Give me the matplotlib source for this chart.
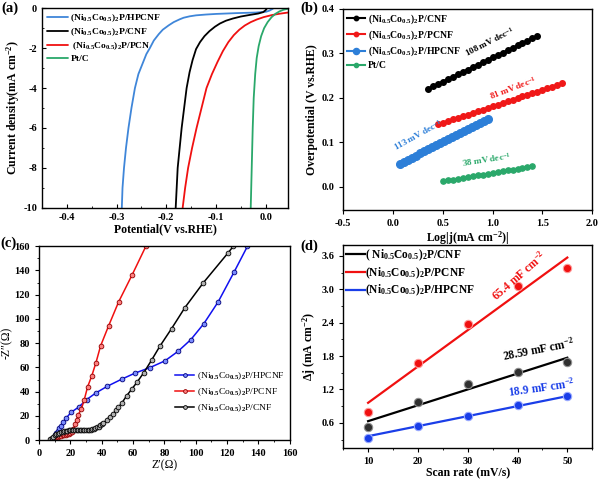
import matplotlib
matplotlib.use("Agg")
import matplotlib.pyplot as plt
from matplotlib.ticker import MultipleLocator, AutoMinorLocator

plt.rcParams['font.family'] = ['Liberation Serif', 'DejaVu Serif']
plt.rcParams['font.weight'] = 'bold'
plt.rcParams['axes.labelweight'] = 'bold'
plt.rcParams['axes.unicode_minus'] = False
plt.rcParams['mathtext.fontset'] = 'custom'
plt.rcParams['mathtext.rm'] = 'Liberation Serif:bold'
plt.rcParams['mathtext.it'] = 'Liberation Serif:bold'
plt.rcParams['mathtext.bf'] = 'Liberation Serif:bold'
plt.rcParams['axes.linewidth'] = 1.0

# ---------------- data ----------------
# (a) LSV
lsv_labels = ["(Ni$_{0.5}$Co$_{0.5}$)$_2$P/HPCNF", "(Ni$_{0.5}$Co$_{0.5}$)$_2$P/CNF",
              " (Ni$_{0.5}$Co$_{0.5}$)$_2$P/PCN", "Pt/C"]
lsv_hpcnf_x = [-0.2894, -0.288, -0.285, -0.281, -0.276, -0.270, -0.263, -0.256, -0.248, -0.240,
               -0.233, -0.225, -0.215, -0.207, -0.195, -0.185, -0.173, -0.165, -0.153, -0.140,
               -0.120, -0.10, -0.06, -0.02, 0.001, 0.008, 0.013, 0.016]
lsv_hpcnf_y = [-10, -9, -8, -7, -6, -5, -4, -3.3, -2.8, -2.3, -2.0, -1.62, -1.3, -1.08, -0.86,
               -0.70, -0.56, -0.48, -0.41, -0.36, -0.32, -0.29, -0.25, -0.22, -0.18, -0.12,
               -0.05, 0.0]
lsv_cnf_x = [-0.181, -0.179, -0.177, -0.173, -0.169, -0.164, -0.159, -0.153, -0.147, -0.140,
             -0.132, -0.123, -0.113, -0.102, -0.092, -0.080, -0.066, -0.050, -0.032, -0.015,
             -0.005, 0.000, 0.003]
lsv_cnf_y = [-10, -9, -8, -7, -6, -5, -4, -3.2, -2.6, -2.05, -1.7, -1.4, -1.15, -0.93, -0.77,
             -0.63, -0.52, -0.42, -0.34, -0.27, -0.20, -0.10, 0.0]
lsv_pcn_x = [-0.167, -0.162, -0.156, -0.148, -0.139, -0.129, -0.119, -0.108, -0.097, -0.086,
             -0.075, -0.064, -0.053, -0.042, -0.030, -0.018, -0.004, 0.012, 0.028, 0.045]
lsv_pcn_y = [-10, -9, -8, -7, -6, -5, -4, -3.3, -2.7, -2.15, -1.7, -1.35, -1.08, -0.87, -0.70,
             -0.57, -0.45, -0.35, -0.28, -0.22]
lsv_pt_x = [-0.030, -0.028, -0.026, -0.024, -0.021, -0.018, -0.014, -0.009, -0.003, 0.004,
            0.012, 0.020, 0.028, 0.036, 0.045]
lsv_pt_y = [-10, -8, -6, -4.5, -3.3, -2.5, -1.9, -1.4, -1.0, -0.7, -0.45, -0.28, -0.16, -0.08,
            -0.03]

# (b) Tafel
tafel_labels = ["(Ni$_{0.5}$Co$_{0.5}$)$_2$P/CNF", "(Ni$_{0.5}$Co$_{0.5}$)$_2$P/PCNF",
                "(Ni$_{0.5}$Co$_{0.5}$)$_2$P/HPCNF", "Pt/C"]
tafel_cnf_x = [0.35, 0.40, 0.45, 0.50, 0.55, 0.60, 0.65, 0.70, 0.75, 0.80, 0.85, 0.90, 0.95,
               1.00, 1.05, 1.10, 1.15, 1.20, 1.25, 1.30, 1.35, 1.40, 1.45]
tafel_cnf_y = [0.220, 0.2254, 0.2308, 0.2362, 0.2416, 0.2470, 0.2524, 0.2578, 0.2632, 0.2686,
               0.2740, 0.2794, 0.2848, 0.2902, 0.2956, 0.3010, 0.3064, 0.3118, 0.3172, 0.3226,
               0.3280, 0.3334, 0.3388]
tafel_pcnf_x = [0.45, 0.50, 0.55, 0.60, 0.65, 0.70, 0.75, 0.80, 0.85, 0.90, 0.95, 1.00, 1.05,
                1.10, 1.15, 1.20, 1.25, 1.30, 1.35, 1.40, 1.45, 1.50, 1.55, 1.60, 1.65, 1.70]
tafel_pcnf_y = [0.140, 0.1437, 0.1474, 0.1510, 0.1547, 0.1584, 0.1621, 0.1658, 0.1694, 0.1731,
                0.1768, 0.1805, 0.1842, 0.1878, 0.1915, 0.1952, 0.1989, 0.2026, 0.2062, 0.2099,
                0.2136, 0.2173, 0.2210, 0.2246, 0.2283, 0.2320]
tafel_hpcnf_x = [0.07, 0.11, 0.15, 0.19, 0.23, 0.27, 0.31, 0.35, 0.39, 0.43, 0.47, 0.51, 0.55,
                 0.59, 0.63, 0.67, 0.71, 0.75, 0.79, 0.83, 0.87, 0.91, 0.95]
tafel_hpcnf_y = [0.052, 0.0565, 0.0610, 0.0655, 0.0700, 0.0745, 0.0790, 0.0835, 0.0880, 0.0925,
                 0.0970, 0.1015, 0.1060, 0.1105, 0.1150, 0.1195, 0.1240, 0.1285, 0.1330, 0.1375,
                 0.1420, 0.1465, 0.1510]
tafel_pt_x = [0.50, 0.55, 0.60, 0.65, 0.70, 0.75, 0.80, 0.85, 0.90, 0.95, 1.00, 1.05, 1.10,
              1.15, 1.20, 1.25, 1.30, 1.35, 1.40]
tafel_pt_y = [0.012, 0.0139, 0.0158, 0.0177, 0.0196, 0.0215, 0.0234, 0.0252, 0.0271, 0.0290,
              0.0309, 0.0328, 0.0347, 0.0366, 0.0385, 0.0404, 0.0422, 0.0441, 0.0460]
tafel_slopes = ["108 mV dec$^{-1}$", "81 mV dec$^{-1}$", "113 mV dec$^{-1}$", "38 mV dec$^{-1}$"]

# (c) EIS
eis_labels = ["(Ni$_{0.5}$Co$_{0.5}$)$_2$P/HPCNF", "(Ni$_{0.5}$Co$_{0.5}$)$_2$P/PCNF",
              "(Ni$_{0.5}$Co$_{0.5}$)$_2$P/CNF"]
eis_hpcnf_x = [8, 9, 10, 11, 12, 13, 14, 15.5, 17.5, 20.5, 25.5, 30.4, 36.3, 43.6, 52.7, 61.2,
               70.8, 80.3, 88.8, 96.9, 105.2, 114.3, 124.5, 133]
eis_hpcnf_y = [1, 2, 4, 6, 8, 10, 12, 15, 18.5, 23, 27.5, 33.5, 39, 44.5, 50.3, 55.3, 59.9,
               65.4, 73.4, 83, 96.2, 114.1, 138.8, 160]
eis_pcnf_x = [8, 9, 10, 11, 12, 13, 14, 15, 16, 17, 18, 19, 20, 21, 22, 23, 24, 25, 27, 28.9,
              31, 33.6, 36.3, 39.3, 44.4, 50.8, 59.5, 68.2]
eis_pcnf_y = [1, 1.5, 2, 2.5, 3, 3.3, 3.6, 3.9, 4.2, 4.5, 4.8, 5.2, 5.8, 7, 9.5, 13, 17, 21,
              25.6, 33.5, 44, 52.8, 63.8, 77.8, 94.3, 114.1, 136.6, 160]
eis_cnf_x = [7, 8, 9, 10, 11, 12, 13, 14, 15, 16, 17, 18, 19, 20, 21, 22, 23, 24, 25, 26, 27,
             28, 29, 30, 31, 32, 33, 34, 35, 36, 37, 38, 39, 40, 41, 43.1, 45, 47.4, 49, 50.6,
             53, 55.9, 59.1, 62.7, 66.9, 71.8, 77.1, 84.6, 93.1, 104.8, 120.3, 124]
eis_cnf_y = [1, 2, 3, 4, 4.8, 5.5, 6, 6.5, 7, 7.3, 7.6, 7.9, 8.1, 8.3, 8.4, 8.5, 8.5, 8.5, 8.5,
             8.4, 8.4, 8.4, 8.4, 8.4, 8.5, 8.6, 8.8, 9, 9.4, 10, 10.6, 11.3, 12.2, 13.2, 14.3,
             16.5, 19.5, 22, 24.5, 27, 31, 36.6, 42, 48.1, 55.8, 66, 77.5, 92.1, 109.4, 129.8,
             154, 160]

# (d) Cdl
scan_rate = [10, 20, 30, 40, 50]
cdl_labels = ["( Ni$_{0.5}$Co$_{0.5}$)$_2$P/CNF", "(Ni$_{0.5}$Co$_{0.5}$)$_2$P/PCNF",
              "(Ni$_{0.5}$Co$_{0.5}$)$_2$P/HPCNF"]
dj_cnf = [0.52, 0.97, 1.29, 1.52, 1.69]
dj_pcnf = [0.80, 1.68, 2.38, 3.06, 3.38]
dj_hpcnf = [0.32, 0.55, 0.73, 0.92, 1.08]
fit_x = [10, 50]
fit_cnf = [0.63, 1.77]
fit_pcnf = [0.96, 3.57]
fit_hpcnf = [0.36, 1.08]
cdl_values = ["28.59 mF cm$^{-2}$", "65.4 mF cm$^{-2}$", "18.9 mF cm$^{-2}$"]

# ---------------- figure ----------------
fig = plt.figure(figsize=(6.0, 4.79), dpi=100)
axa = fig.add_axes([0.070, 0.566, 0.410, 0.417])
axb = fig.add_axes([0.572, 0.562, 0.415, 0.420])
axc = fig.add_axes([0.065, 0.081, 0.418, 0.405])
axd = fig.add_axes([0.572, 0.065, 0.415, 0.424])

TS = 7.5

# (a)
c_a = ['#3f86d9', 'black', '#f01010', '#2aa86a']
kw = dict(lw=1.3, solid_joinstyle='round', solid_capstyle='round')
axa.plot(lsv_hpcnf_x, lsv_hpcnf_y, color=c_a[0], label=lsv_labels[0], **kw)
axa.plot(lsv_cnf_x, lsv_cnf_y, color=c_a[1], label=lsv_labels[1], **kw)
axa.plot(lsv_pcn_x, lsv_pcn_y, color=c_a[2], label=lsv_labels[2], **kw)
axa.plot(lsv_pt_x, lsv_pt_y, color=c_a[3], label=lsv_labels[3], **kw)
axa.set_xlim(-0.45, 0.045)
axa.set_ylim(-10, 0)
axa.xaxis.set_major_locator(MultipleLocator(0.1))
axa.yaxis.set_major_locator(MultipleLocator(2))
axa.xaxis.set_minor_locator(AutoMinorLocator(2))
axa.yaxis.set_minor_locator(AutoMinorLocator(2))
axa.xaxis.set_major_formatter(plt.FuncFormatter(lambda v, p: f"{v:.1f}"))
axa.tick_params(which='both', direction='in', labelsize=TS)
axa.tick_params(which='major', length=3)
axa.tick_params(which='minor', length=1.5)
axa.set_xlabel("Potential(V vs.RHE)", fontsize=8.5, labelpad=1)
axa.set_ylabel("Current density(mA cm$^{-2}$)", fontsize=8.5, labelpad=1)
axa.legend(loc='upper left', frameon=False, fontsize=6.8, handlelength=2.2,
           handletextpad=0.3, labelspacing=0.25, borderaxespad=0.2, borderpad=0.3)

# (b)
c_b = ['black', '#f01818', '#2d7fd8', '#2aa86a']
axb.plot(tafel_cnf_x, tafel_cnf_y, color=c_b[0], marker='o', ms=4, lw=1.5, label=tafel_labels[0])
axb.plot(tafel_pcnf_x, tafel_pcnf_y, color=c_b[1], marker='o', ms=4, lw=1.5, label=tafel_labels[1])
axb.plot(tafel_hpcnf_x, tafel_hpcnf_y, color=c_b[2], marker='o', ms=5.5, lw=1.5, label=tafel_labels[2])
axb.plot(tafel_pt_x, tafel_pt_y, color=c_b[3], marker='o', ms=3.8, lw=1.5, label=tafel_labels[3])
axb.set_xlim(-0.5, 2.0)
axb.set_ylim(-0.052, 0.4)
axb.xaxis.set_major_locator(MultipleLocator(0.5))
axb.yaxis.set_major_locator(MultipleLocator(0.1))
axb.tick_params(which='both', direction='out', labelsize=TS, length=3)
axb.set_xlabel("Log|j(mA cm$^{-2}$)|", fontsize=8.5, labelpad=1)
axb.set_ylabel("Overpotential (V vs.RHE)", fontsize=8.5, labelpad=2)
axb.legend(loc='upper left', frameon=False, fontsize=7.0, handlelength=1.9,
           handletextpad=0.3, labelspacing=0.3, borderaxespad=0.15, borderpad=0.2,
           markerscale=0.8)
axb.text(0.97, 0.326, tafel_slopes[0], color=c_b[0], fontsize=6.6, rotation=27,
         ha='center', va='center')
axb.text(1.21, 0.221, tafel_slopes[1], color=c_b[1], fontsize=6.6, rotation=21,
         ha='center', va='center')
axb.text(0.25, 0.116, tafel_slopes[2], color=c_b[2], fontsize=6.6, rotation=29,
         ha='center', va='center')
axb.text(0.945, 0.061, tafel_slopes[3], color=c_b[3], fontsize=6.6, rotation=9,
         ha='center', va='center')

# (c)
c_c = ['#1010f0', '#f01010', 'black']
e_c = ['#00007a', '#900000', '#000000']
axc.plot(eis_hpcnf_x, eis_hpcnf_y, color=c_c[0], marker='o', ms=3.4, mfc='#7a8cff',
         mec=e_c[0], mew=0.6, lw=1.1, label=eis_labels[0])
axc.plot(eis_pcnf_x, eis_pcnf_y, color=c_c[1], marker='o', ms=3.4, mfc='#ff8080',
         mec=e_c[1], mew=0.6, lw=1.1, label=eis_labels[1])
axc.plot(eis_cnf_x, eis_cnf_y, color=c_c[2], marker='o', ms=3.4, mfc='#b0b0b0',
         mec=e_c[2], mew=0.6, lw=1.1, label=eis_labels[2])
axc.set_xlim(0, 160)
axc.set_ylim(0, 160)
axc.xaxis.set_major_locator(MultipleLocator(20))
axc.yaxis.set_major_locator(MultipleLocator(20))
axc.xaxis.set_minor_locator(AutoMinorLocator(2))
axc.yaxis.set_minor_locator(AutoMinorLocator(2))
axc.tick_params(which='both', direction='out', labelsize=TS)
axc.tick_params(which='major', length=3)
axc.tick_params(which='minor', length=1.5)
axc.set_xlabel("Z\u2032(\u03a9)", fontsize=8.5, labelpad=1, fontweight='normal')
axc.set_ylabel("-Z\u2033(\u03a9)", fontsize=8.5, labelpad=1, fontweight='normal')
axc.legend(loc='lower right', bbox_to_anchor=(1.0, 0.11), frameon=False,
           handlelength=2.0, handletextpad=0.3, labelspacing=0.45, borderaxespad=0.1,
           markerscale=0.8, prop={'size': 6.8, 'weight': 'normal'})

# (d)
c_d = ['black', '#f01010', '#1a3ee8']
axd.plot(fit_x, fit_cnf, color=c_d[0], lw=1.6, label=cdl_labels[0])
axd.plot(fit_x, fit_pcnf, color=c_d[1], lw=1.6, label=cdl_labels[1])
axd.plot(fit_x, fit_hpcnf, color=c_d[2], lw=1.6, label=cdl_labels[2])
axd.plot(scan_rate, dj_cnf, ls='none', marker='o', ms=6, mfc='#303030', mec='#909090', mew=0.8)
axd.plot(scan_rate, dj_pcnf, ls='none', marker='o', ms=6, mfc='#f01010', mec='#ff9a9a', mew=0.8)
axd.plot(scan_rate, dj_hpcnf, ls='none', marker='o', ms=6, mfc='#1a3ee8', mec='#9aaaff', mew=0.8)
axd.set_xlim(5, 55)
axd.set_ylim(0.15, 3.8)
axd.xaxis.set_major_locator(MultipleLocator(10))
axd.yaxis.set_major_locator(MultipleLocator(0.6))
axd.xaxis.set_minor_locator(AutoMinorLocator(2))
axd.yaxis.set_minor_locator(AutoMinorLocator(2))
axd.yaxis.set_major_formatter(plt.FuncFormatter(lambda v, p: f"{v:.1f}"))
axd.tick_params(which='both', direction='out', labelsize=TS)
axd.tick_params(which='major', length=3)
axd.tick_params(which='minor', length=1.5)
axd.set_xlabel("Scan rate (mV/s)", fontsize=8.5, labelpad=1)
axd.set_ylabel("\u0394j (mA cm$^{-2}$)", fontsize=8.5, labelpad=2)
axd.legend(loc='upper left', frameon=False, fontsize=8.3, handlelength=1.6,
           handletextpad=0.0, labelspacing=0.2, borderaxespad=0.0, borderpad=0.25)
axd.text(44.2, 1.92, cdl_values[0], color=c_d[0], fontsize=8.3, rotation=11,
         ha='center', va='center')
axd.text(40.3, 3.24, cdl_values[1], color=c_d[1], fontsize=8.3, rotation=41,
         ha='center', va='center')
axd.text(44.9, 1.24, cdl_values[2], color=c_d[2], fontsize=8.3, rotation=8,
         ha='center', va='center')

# panel letters
fig.text(0.003, 0.997, "(a)", fontsize=10.5, fontweight='bold', va='top', ha='left')
fig.text(0.500, 0.997, "(b)", fontsize=10.5, fontweight='bold', va='top', ha='left')
fig.text(0.000, 0.506, "(c)", fontsize=10.5, fontweight='bold', va='top', ha='left')
fig.text(0.500, 0.500, "(d)", fontsize=10.5, fontweight='bold', va='top', ha='left')

fig.savefig("out.png", dpi=100)
